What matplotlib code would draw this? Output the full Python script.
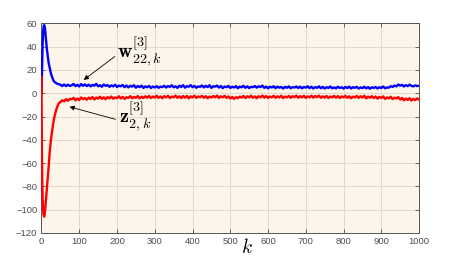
import numpy as np
import matplotlib
matplotlib.use("Agg")
import matplotlib.pyplot as plt

# Transient part (k = 0..75)
k_early = [0, 1, 2, 3, 4, 5, 6, 7, 8, 9, 10, 11, 12, 13, 14, 15, 17, 19, 22,
           25, 28, 31, 35, 40, 45, 50, 55, 60, 65, 70, 75]
w_early = [0, 15, 30, 42, 50, 55, 58, 58.5, 58, 56, 53, 49, 45, 42, 39, 36, 31,
           26, 21.5, 17, 14, 11.5, 9.5, 8.5, 7.8, 7.3, 6.2, 7.6, 6.1, 7.4, 6.3]
z_early = [14, -50, -75, -90, -98, -103, -105, -106, -105, -102, -99, -95, -91,
           -87, -83, -80, -72, -63, -49, -40, -33, -26, -19, -13, -9, -7.5,
           -6.0, -6.9, -5.1, -6.4, -4.9]

# Steady part (k = 80..1000, step 5)
k_tail = list(range(80, 1001, 5))
w_tail = [6.8, 8.0, 6.1, 7.3, 5.8, 7.9, 6.4, 7.6, 6.2, 7.4,
          5.9, 7.2, 6.5, 8.1, 6.0, 6.9, 5.6, 7.5, 6.3, 7.0,
          5.5, 6.8, 5.9, 7.3, 5.4, 6.6, 6.0, 7.1, 5.2, 6.7,
          5.0, 6.4, 5.7, 6.9, 4.8, 6.2, 5.3, 6.5, 4.6, 5.9,
          5.2, 6.3, 4.5, 5.8, 5.0, 6.1, 4.7, 5.6, 5.3, 6.4,
          4.9, 6.2, 5.5, 6.8, 5.1, 6.0, 4.6, 6.5, 5.4, 6.9,
          4.8, 6.1, 5.6, 7.0, 5.2, 6.3, 4.7, 5.9, 5.5, 6.7,
          5.0, 6.4, 5.3, 6.9, 4.6, 6.0, 5.7, 6.6, 4.9, 6.2,
          4.4, 5.8, 5.2, 6.3, 4.6, 5.6, 5.0, 6.1, 4.3, 5.7,
          5.1, 6.4, 4.7, 5.9, 4.5, 5.5, 5.2, 6.2, 4.8, 6.0,
          5.3, 6.6, 4.6, 5.8, 4.2, 5.6, 5.0, 6.0, 4.4, 5.7,
          4.8, 5.4, 4.1, 5.5, 4.7, 5.9, 4.3, 5.3, 4.9, 5.8,
          4.5, 5.7, 4.2, 5.4, 4.8, 6.0, 4.4, 5.6, 4.1, 5.3,
          4.7, 5.9, 4.3, 5.5, 4.0, 5.2, 4.6, 5.8, 4.2, 5.0,
          4.2, 5.6, 4.6, 5.1, 4.0, 5.4, 4.5, 5.7, 4.1, 5.2,
          4.7, 5.5, 4.0, 5.0, 4.4, 5.6, 4.2, 5.3, 3.9, 5.1,
          4.6, 5.4, 4.1, 5.2, 4.5, 5.8, 4.3, 5.0, 4.8, 6.1,
          5.4, 6.6, 5.9, 7.5, 6.5, 7.2, 5.8, 7.0, 6.1, 7.4,
          6.3, 5.9, 6.8, 6.2, 6.4]
z_tail = [-5.2, -3.9, -6.1, -4.5, -5.8, -3.6, -5.0, -4.1, -5.6, -3.8,
          -4.9, -3.2, -5.3, -3.7, -4.6, -3.0, -4.8, -3.5, -5.1, -3.3,
          -4.4, -2.8, -4.7, -3.6, -4.2, -2.6, -4.5, -3.1, -4.9, -3.4,
          -4.0, -2.5, -4.3, -3.2, -3.9, -2.4, -4.4, -2.9, -4.1, -2.6,
          -3.8, -2.3, -4.2, -2.8, -3.7, -2.1, -4.0, -2.7, -4.3, -2.5,
          -3.6, -2.2, -4.1, -2.9, -3.5, -2.0, -3.9, -2.6, -4.2, -2.4,
          -3.8, -2.3, -4.4, -2.7, -3.6, -2.1, -4.0, -2.8, -3.4, -2.2,
          -3.9, -2.5, -4.3, -2.9, -3.7, -2.4, -3.5, -2.0, -4.1, -2.6,
          -3.6, -2.2, -4.0, -2.7, -4.5, -3.1, -4.8, -3.4, -4.2, -2.9,
          -3.8, -2.3, -4.1, -2.6, -3.5, -2.1, -3.9, -2.7, -4.3, -2.5,
          -3.6, -2.0, -3.8, -2.4, -4.0, -2.8, -3.5, -2.2, -3.9, -2.6,
          -3.7, -2.1, -4.2, -2.8, -3.6, -2.3, -3.9, -2.5, -3.4, -2.0,
          -3.9, -2.5, -3.6, -2.2, -4.0, -2.7, -3.5, -2.1, -3.8, -2.4,
          -3.4, -2.0, -3.9, -2.6, -3.7, -2.3, -4.1, -2.8, -3.6, -2.2,
          -3.8, -2.4, -4.1, -2.7, -3.5, -2.2, -3.9, -2.6, -4.3, -2.9,
          -3.6, -2.3, -4.0, -2.5, -3.7, -2.1, -4.4, -2.9, -3.8, -2.5,
          -4.1, -2.8, -4.6, -3.2, -4.0, -2.7, -4.9, -3.6, -4.3, -3.0,
          -5.0, -3.8, -4.5, -3.3, -5.4, -4.0, -6.1, -4.6, -5.7, -4.2,
          -6.3, -4.8, -5.9, -4.4, -5.6]

k = k_early + k_tail
w_vals = w_early + w_tail
z_vals = z_early + z_tail

x_ticks = list(range(0, 1001, 100))
y_ticks = list(range(-120, 61, 20))

plt.rcParams["mathtext.fontset"] = "cm"

fig = plt.figure(figsize=(4.5, 2.59), dpi=100)
ax = fig.add_axes([0.0922, 0.1004, 0.839, 0.8093])
ax.set_facecolor("#fdf5e9")

ax.plot(k, w_vals, color="#0000ff", lw=1.7, zorder=3)
ax.plot(k, z_vals, color="#ff0000", lw=1.7, zorder=3)

ax.set_xlim(0, 1000)
ax.set_ylim(-120, 60)
ax.set_xticks(x_ticks)
ax.set_yticks(y_ticks)
ax.grid(True, color="#ddd4c4", lw=0.6)
ax.set_axisbelow(True)
ax.tick_params(direction="in", length=3, width=0.6, top=True, right=True,
               labelsize=6.8, labelcolor="#4d4d4d", colors="#4d4d4d", pad=3)
for lbl in ax.get_xticklabels() + ax.get_yticklabels():
    lbl.set_family("Liberation Sans")
for s in ax.spines.values():
    s.set_color("#555555")
    s.set_linewidth(0.7)

# axis label sits inside the tick label row
ax.text(0.545, -0.025, r"$k$", transform=ax.transAxes, fontsize=14,
        ha="center", va="top")

# annotations
ax.annotate("", xy=(106, 10), xytext=(200, 33),
            arrowprops=dict(arrowstyle="-|>", color="black", lw=0.6,
                            mutation_scale=7))
ax.annotate("", xy=(67, -11), xytext=(203, -23),
            arrowprops=dict(arrowstyle="-|>", color="black", lw=0.6,
                            mutation_scale=7))
ax.text(200, 30, r"$\mathbf{w}_{22,k}^{[3]}$", fontsize=14.5, ha="left",
        va="baseline")
ax.text(206, -25.5, r"$\mathbf{z}_{2,k}^{[3]}$", fontsize=14.5, ha="left",
        va="baseline")

fig.savefig("out.png", dpi=100)
